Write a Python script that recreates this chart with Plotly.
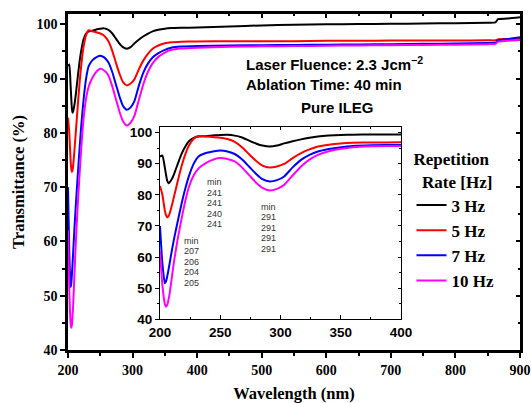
import plotly.graph_objects as go

# Wavelength grid (nm) shared by all spectra
wavelength = [200, 202, 204, 205, 206, 207, 208, 210, 212, 215,
              218, 221, 224, 228, 232, 238, 245, 250, 256, 262,
              268, 274, 280, 285, 291, 297, 303, 310, 317, 324,
              331, 340, 350, 360, 375, 400, 450, 500, 550, 600,
              650, 700, 750, 800, 850, 862, 866, 880, 900]

# Transmittance (%) for each repetition rate
t_3hz = [92.3, 92.6, 88.8, 86.5, 84.5, 83.7, 84.0, 85.2, 87.0, 90.2,
         93.2, 95.5, 97.2, 98.3, 98.7, 98.8, 99.1, 99.2, 99.25, 99.0,
         98.4, 97.4, 96.4, 95.8, 95.5, 95.8, 96.5, 97.2, 97.8, 98.3,
         98.7, 99.0, 99.2, 99.3, 99.35, 99.4, 99.6, 99.8, 99.9, 100.0,
         100.05, 100.1, 100.15, 100.2, 100.3, 100.35, 100.95, 101.05, 101.3]
t_5hz = [82.8, 80.0, 75.0, 73.5, 72.8, 73.1, 74.0, 76.8, 80.0, 84.8,
         89.3, 93.0, 95.8, 98.0, 98.9, 98.7, 98.5, 98.3, 97.9, 97.0,
         95.3, 93.0, 90.8, 89.4, 88.75, 89.1, 89.9, 91.8, 93.4, 94.6,
         95.5, 96.1, 96.5, 96.7, 96.8, 96.85, 96.9, 96.9, 96.9, 96.95,
         96.95, 97.0, 97.0, 97.0, 97.05, 97.05, 97.25, 97.3, 97.35]
t_7hz = [70.0, 58.0, 51.6, 52.2, 53.8, 55.8, 58.0, 62.5, 66.5, 72.0,
         77.3, 82.0, 86.0, 90.0, 92.3, 93.4, 94.0, 94.2, 93.9, 93.1,
         91.4, 89.0, 86.6, 85.0, 84.25, 84.7, 85.9, 88.8, 91.2, 92.8,
         93.9, 94.7, 95.3, 95.7, 95.9, 96.0, 96.1, 96.15, 96.2, 96.25,
         96.3, 96.35, 96.4, 96.45, 96.55, 96.6, 97.05, 97.25, 97.6]
t_10hz = [62.0, 51.0, 45.0, 44.1, 44.6, 46.2, 48.3, 54.0, 59.5, 66.5,
          72.5, 78.0, 82.5, 86.3, 88.5, 90.2, 91.4, 91.8, 91.5, 90.7,
          88.8, 86.3, 83.8, 82.2, 81.35, 81.9, 83.2, 86.2, 89.1, 91.3,
          92.8, 94.0, 94.8, 95.3, 95.55, 95.7, 95.85, 95.95, 96.0, 96.05,
          96.1, 96.15, 96.2, 96.25, 96.35, 96.4, 96.8, 96.95, 97.1]

series_names = ["3 Hz", "5 Hz", "7 Hz", "10 Hz"]
series_colors = ["#000000", "#ff0000", "#0000ff", "#ff00ff"]
series_values = [t_3hz, t_5hz, t_7hz, t_10hz]

# Band minima (nm) listed beside the inset
min_band1 = [207, 206, 204, 205]
min_band2 = [241, 241, 240, 241]
min_band3 = [291, 291, 291, 291]

SERIF = "Liberation Serif"
SANS = "Liberation Sans"

MAIN_X = [200, 900]
MAIN_Y = [40, 101.9]
INSET_X = [200, 400]
INSET_Y = [40, 101.8]

fig = go.Figure()

for name, color, vals in zip(series_names, series_colors, series_values):
    fig.add_trace(go.Scatter(x=wavelength, y=vals, name=name, mode="lines",
                             line=dict(color=color, width=2, shape="spline", smoothing=0.5),
                             xaxis="x", yaxis="y"))
for name, color, vals in zip(series_names, series_colors, series_values):
    fig.add_trace(go.Scatter(x=wavelength, y=vals, name=name, mode="lines",
                             line=dict(color=color, width=2, shape="spline", smoothing=0.5),
                             xaxis="x2", yaxis="y2", showlegend=False))

# empty traces that hold the inward-ticked top/right frame axes
fig.add_trace(go.Scatter(x=[], y=[], xaxis="x3", yaxis="y3", showlegend=False, hoverinfo="skip"))
fig.add_trace(go.Scatter(x=[], y=[], xaxis="x4", yaxis="y4", showlegend=False, hoverinfo="skip"))

main_tick = dict(family=SERIF, size=14, color="black", weight="bold")
inset_tick = dict(family=SANS, size=13.5, color="black", weight="bold")
title_font = dict(family=SERIF, size=16.5, color="black", weight="bold")


def frame_axis(rng, dtick, minor_dtick, side, overlay, anchor, ticklen, minorlen, width):
    return dict(range=rng, dtick=dtick, tick0=rng[0], side=side, overlaying=overlay,
                anchor=anchor, automargin=False, showline=False, showgrid=False,
                zeroline=False, showticklabels=False,
                ticks="inside", ticklen=ticklen, tickwidth=width, tickcolor="black",
                minor=dict(dtick=minor_dtick, ticks="inside", ticklen=minorlen,
                           tickwidth=width, tickcolor="black"))


fig.update_layout(
    width=531, height=403,
    margin=dict(l=68, r=11, t=14, b=53, autoexpand=False),
    paper_bgcolor="white", plot_bgcolor="white",
    xaxis=dict(domain=[0, 1], range=MAIN_X, dtick=100, tick0=200, automargin=False,
               showline=True, linewidth=2.5, linecolor="black", mirror=True,
               ticks="outside", ticklen=5, tickwidth=2, tickcolor="black",
               minor=dict(dtick=50, ticks="outside", ticklen=3, tickwidth=1.5, tickcolor="black"),
               showgrid=False, zeroline=False, tickfont=main_tick,
               title=dict(text="Wavelength (nm)", standoff=12, font=title_font)),
    yaxis=dict(domain=[0, 1], range=MAIN_Y, dtick=10, tick0=40, automargin=False,
               showline=True, linewidth=2.5, linecolor="black", mirror=True,
               ticks="outside", ticklen=5, tickwidth=2, tickcolor="black",
               minor=dict(dtick=5, ticks="outside", ticklen=3, tickwidth=1.5, tickcolor="black"),
               showgrid=False, zeroline=False, tickfont=main_tick,
               title=dict(text="Transmittance (%)", standoff=8, font=title_font)),
    xaxis3=frame_axis(MAIN_X, 100, 50, "top", "x", "y", 4, 2, 1.5),
    yaxis3=frame_axis(MAIN_Y, 10, 5, "right", "y", "x", 4, 2, 1.5),
    xaxis2=dict(domain=[0.2035, 0.737], anchor="y2", range=INSET_X, dtick=50, tick0=200,
                automargin=False,
                showline=True, linewidth=1.2, linecolor="black", mirror=True,
                ticks="inside", ticklen=4, tickwidth=1, tickcolor="black",
                minor=dict(dtick=25, ticks="inside", ticklen=2, tickwidth=1, tickcolor="black"),
                showgrid=False, zeroline=False, tickfont=inset_tick),
    yaxis2=dict(domain=[0.091, 0.664], anchor="x2", range=INSET_Y, dtick=10, tick0=40,
                automargin=False,
                showline=True, linewidth=1.2, linecolor="black", mirror=True,
                ticks="outside", ticklen=4, tickwidth=1, tickcolor="black",
                minor=dict(dtick=5, ticks="outside", ticklen=2, tickwidth=1, tickcolor="black"),
                showgrid=False, zeroline=False, tickfont=inset_tick),
    xaxis4=frame_axis(INSET_X, 50, 25, "top", "x2", "y2", 3, 2, 1),
    yaxis4=frame_axis(INSET_Y, 10, 5, "right", "y2", "x2", 3, 2, 1),
    legend=dict(x=0.76, y=0.615, xanchor="left", yanchor="top",
                bgcolor="rgba(0,0,0,0)", tracegroupgap=0,
                title=dict(text="Repetition<br>  Rate [Hz]", side="top",
                           font=dict(family=SERIF, size=17, color="black", weight="bold")),
                font=dict(family=SERIF, size=17, color="black", weight="bold")),
    showlegend=True,
)

# Experimental conditions
cond_font = dict(family=SANS, size=15, color="black", weight="bold")
fig.add_annotation(text="Laser Fluence: 2.3 Jcm<sup>\u22122</sup>", xref="paper", yref="paper",
                   x=0.389, y=0.854, xanchor="left", yanchor="middle", showarrow=False, font=cond_font)
fig.add_annotation(text="Ablation Time: 40 min", xref="paper", yref="paper",
                   x=0.389, y=0.789, xanchor="left", yanchor="middle", showarrow=False, font=cond_font)
fig.add_annotation(text="Pure ILEG", xref="paper", yref="paper",
                   x=0.597, y=0.723, xanchor="center", yanchor="middle", showarrow=False, font=cond_font)

# Minima tables inside the inset
note_font = dict(family=SANS, size=9, color="#333333")
for x0, y0, vals in [(218.3, 65.2, min_band1), (237.3, 84.1, min_band2), (282.0, 76.1, min_band3)]:
    lines = ["min"] + [str(v) for v in vals]
    for i, s in enumerate(lines):
        fig.add_annotation(text=s, xref="x2", yref="y2", x=x0, y=y0, yshift=-10.5 * i,
                           xanchor="left", yanchor="middle", showarrow=False, font=note_font)

fig.write_html("out.html")
